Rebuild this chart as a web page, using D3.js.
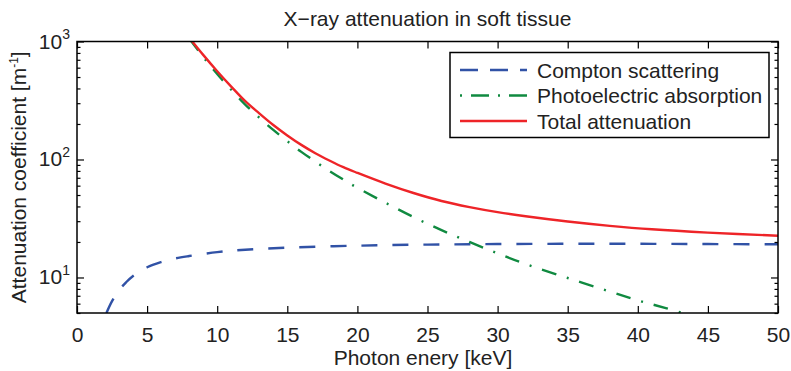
<!DOCTYPE html>
<html>
<head>
<meta charset="utf-8">
<script src="https://cdn.jsdelivr.net/npm/d3@7"></script>
<style>
  body { margin: 0; background: #fff; }
  svg { display: block; font-family: "Liberation Sans", Arial, Helvetica, sans-serif; }
</style>
</head>
<body>
<div id="chart"></div>
<script>
// values (energy in keV, coefficient in 1/m)
const comptonE = [2.1, 2.5, 3, 3.5, 4, 5, 6, 7, 8, 10, 12, 15, 20, 25, 30, 35, 40, 45, 50];
const comptonV = [5.0, 6.3, 7.8, 9.1, 10.3, 12.2, 13.5, 14.5, 15.2, 16.4, 17.2, 17.9, 18.6, 19.0, 19.2, 19.3, 19.3, 19.2, 19.1];

const photoE = [8, 9, 10, 11, 12, 13, 14, 15, 16, 17, 18, 19, 20, 22, 24, 26, 28, 30, 32, 35, 38, 40, 42, 44];
const photoV = [1060, 740, 530, 390, 292, 226, 178, 143, 116, 96, 80, 67.5, 57.5, 43, 32.5, 25.2, 20, 16, 13, 9.9, 7.6, 6.4, 5.5, 4.7];

const totalE = [8, 9, 10, 11, 12, 13, 14, 15, 16, 17, 18, 19, 20, 22, 24, 26, 28, 30, 32, 35, 38, 41, 45, 50];
const totalV = [1080, 770, 560, 415, 312, 246, 196, 160, 133, 113, 98, 86, 77, 62.5, 52, 44.5, 39.5, 35.8, 33, 29.8, 27.4, 25.6, 24, 22.6];

const seriesNames = ["Compton scattering", "Photoelectric absorption", "Total attenuation"];
const xTicks = [0, 5, 10, 15, 20, 25, 30, 35, 40, 45, 50];
const yMajor = [10, 100, 1000];
const yExp = ["1", "2", "3"];

const W = 791, H = 371;
const m = {l: 77, r: 13, t: 41.5, b: 58};
const iw = W - m.l - m.r, ih = H - m.t - m.b;
const fs = 21;

const x = d3.scaleLinear().domain([0, 50]).range([0, iw]);
const y = d3.scaleLog().domain([5, 1000]).range([ih, 0]);

const svg = d3.select("#chart").append("svg")
  .attr("width", W).attr("height", H)
  .attr("viewBox", [0, 0, W, H]);

const g = svg.append("g").attr("transform", `translate(${m.l},${m.t})`);

g.append("clipPath").attr("id", "clip")
  .append("rect").attr("width", iw).attr("height", ih);

const series = [
  {name: seriesNames[0], e: comptonE, v: comptonV, color: "#3152a6", dash: "16,15"},
  {name: seriesNames[1], e: photoE, v: photoV, color: "#108a40", dash: "15,11,2,11"},
  {name: seriesNames[2], e: totalE, v: totalV, color: "#ee2428", dash: null}
];

const line = d3.line()
  .x(d => x(d[0]))
  .y(d => y(d[1]))
  .curve(d3.curveCatmullRom);

g.append("g").attr("clip-path", "url(#clip)")
  .selectAll("path")
  .data(series)
  .join("path")
    .attr("d", d => line(d.e.map((e, i) => [e, d.v[i]])))
    .attr("fill", "none")
    .attr("stroke", d => d.color)
    .attr("stroke-width", 2.4)
    .attr("stroke-dasharray", d => d.dash);

// minor log ticks
const yMinor = [];
[1, 10, 100].forEach(dec => d3.range(2, 10).forEach(k => {
  const v = k * dec;
  if (v >= 5 && v < 1000) yMinor.push(v);
}));

const axisStyle = sel => {
  sel.select(".domain").remove();
  sel.selectAll("line").attr("stroke", "#000").attr("stroke-width", 1.2);
  sel.selectAll("text").attr("fill", "#222").attr("font-size", fs);
};

g.append("g").attr("transform", `translate(0,${ih})`)
  .call(d3.axisBottom(x).tickValues(xTicks).tickSize(-7).tickPadding(14).tickFormat(d3.format("d")))
  .call(axisStyle);
g.append("g")
  .call(d3.axisTop(x).tickValues(xTicks).tickSize(-7).tickFormat(""))
  .call(axisStyle);

g.append("g").call(d3.axisLeft(y).tickValues(yMajor).tickSize(-7).tickFormat("")).call(axisStyle);
g.append("g").call(d3.axisLeft(y).tickValues(yMinor).tickSize(-3.5).tickFormat("")).call(axisStyle);
g.append("g").attr("transform", `translate(${iw},0)`)
  .call(d3.axisRight(y).tickValues(yMajor).tickSize(-7).tickFormat("")).call(axisStyle);
g.append("g").attr("transform", `translate(${iw},0)`)
  .call(d3.axisRight(y).tickValues(yMinor).tickSize(-3.5).tickFormat("")).call(axisStyle);

// y tick labels with exponents
const yl = g.append("g").selectAll("text")
  .data(yMajor)
  .join("text")
    .attr("x", -7)
    .attr("y", d => y(d) + 7)
    .attr("text-anchor", "end")
    .attr("fill", "#222")
    .attr("font-size", fs);
yl.append("tspan").text("10");
yl.append("tspan").attr("dy", -9.5).attr("font-size", 14).text((d, i) => yExp[i]);

// box
g.append("rect")
  .attr("width", iw).attr("height", ih)
  .attr("fill", "none").attr("stroke", "#000").attr("stroke-width", 1.5);

// title and axis labels
svg.append("text")
  .attr("x", m.l + iw / 2).attr("y", 25.5)
  .attr("text-anchor", "middle").attr("font-size", fs).attr("fill", "#222")
  .text("X\u2212ray attenuation in soft tissue");

svg.append("text")
  .attr("x", 423).attr("y", 365)
  .attr("text-anchor", "middle").attr("font-size", fs).attr("fill", "#222")
  .text("Photon enery [keV]");

const yLab = svg.append("text")
  .attr("transform", `translate(26,${m.t + ih / 2}) rotate(-90)`)
  .attr("text-anchor", "middle").attr("font-size", fs).attr("fill", "#222");
yLab.append("tspan").text("Attenuation coefficient [m");
yLab.append("tspan").attr("dy", -8).attr("font-size", 12).text("-1");
yLab.append("tspan").attr("dy", 8).text("]");

// legend
const lg = svg.append("g").attr("transform", "translate(450,52.5)");
lg.append("rect")
  .attr("width", 319).attr("height", 85)
  .attr("fill", "#fff").attr("stroke", "#000").attr("stroke-width", 1.5);
const rows = lg.selectAll("g.row")
  .data(series)
  .join("g")
    .attr("class", "row")
    .attr("transform", (d, i) => `translate(0,${17.5 + i * 25.5})`);
rows.append("line")
  .attr("x1", 10).attr("x2", 77)
  .attr("stroke", d => d.color).attr("stroke-width", 2.4)
  .attr("stroke-dasharray", (d, i) => i === 0 ? "18,12" : i === 1 ? "2,9,18,9" : null);
rows.append("text")
  .attr("x", 87).attr("y", 7.5)
  .attr("font-size", fs).attr("fill", "#222")
  .text(d => d.name);
</script>
</body>
</html>
